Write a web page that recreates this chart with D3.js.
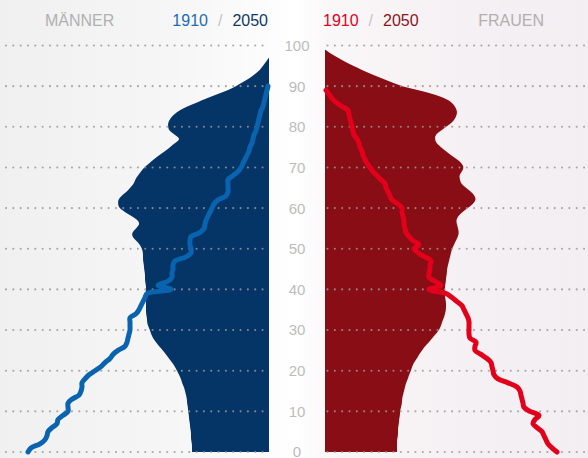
<!DOCTYPE html>
<html>
<head>
<meta charset="utf-8">
<script src="https://cdn.jsdelivr.net/npm/d3@7"></script>
<style>
  html, body { margin: 0; padding: 0; background: #fff; }
  svg { display: block; }
  text { font-family: "Liberation Sans", Arial, sans-serif; }
</style>
</head>
<body>
<div id="chart"></div>
<script>
// population per single year of age (index = age), thousands
const male2050 = [308,308,308,312,312,312,316,316,320,320,324,324,328,328,332,336,340,348,352,360,
  368,376,388,400,412,424,440,452,464,472,476,484,488,488,492,492,492,492,492,492,
  492,492,496,496,496,500,500,504,504,504,508,516,532,548,548,532,516,524,548,576,
  600,604,604,592,568,556,540,536,524,512,500,480,460,440,416,396,376,352,376,400,
  404,404,396,380,360,328,288,248,208,164,132,104,76,56,36,24,12,0];

const female2050 = [288,288,288,288,292,292,292,296,296,300,300,304,308,308,312,316,320,324,332,336,
  344,348,356,368,376,388,400,416,428,444,456,464,468,476,480,484,484,484,480,480,
  480,480,484,484,488,488,492,496,500,504,508,516,524,532,536,532,528,524,532,548,
  572,592,604,600,584,564,544,540,536,548,556,548,528,504,484,464,444,440,440,464,
  484,508,520,528,528,520,508,480,436,376,304,264,224,184,148,112,80,52,24,0];

const male1910 = [964,952,916,896,888,884,868,848,844,824,804,804,804,788,760,752,748,748,736,720,
  696,672,656,636,624,604,576,568,564,560,556,556,556,556,532,520,512,504,496,488,
  392,444,404,388,388,384,384,376,332,312,312,316,316,312,276,260,256,252,244,236,
  228,220,204,172,164,164,164,164,144,124,112,104,96,88,80,76,68,64,60,52,
  48,44,40,36,32,24,20,16,12,8,4];

const female1910 = [928,908,892,884,876,868,848,832,840,856,820,796,792,788,784,780,768,732,692,676,
  672,668,664,648,624,600,600,604,580,576,576,576,576,572,564,556,548,528,508,484,
  416,464,440,416,416,420,420,424,400,372,356,376,352,336,324,320,316,316,312,308,
  308,292,268,260,252,244,240,224,208,192,180,168,160,152,148,140,136,128,116,112,
  108,104,100,96,92,68,44,28,16,4];

const ageTicks = [0, 10, 20, 30, 40, 50, 60, 70, 80, 90, 100];

const W = 588, H = 458;
const svg = d3.select('#chart').append('svg')
  .attr('width', W).attr('height', H);

// background
const defs = svg.append('defs');
const bg = defs.append('linearGradient').attr('id', 'bg')
  .attr('x1', 0).attr('x2', 1).attr('y1', 0).attr('y2', 0);
[[0, '#f0f0f1'], [0.3, '#f6f6f7'], [0.47, '#fdfdfd'], [0.5, '#ffffff'],
 [0.56, '#faf7f8'], [0.8, '#f5f0f3'], [1, '#f3eef1']].forEach(s => {
  bg.append('stop').attr('offset', s[0]).attr('stop-color', s[1]);
});
svg.append('rect').attr('width', W).attr('height', H).attr('fill', 'url(#bg)');

// scales
const y = d3.scaleLinear().domain([0, 100]).range([452, 45.5]);
const xM = d3.scaleLinear().domain([0, 1000]).range([269, 19]);
const xF = d3.scaleLinear().domain([0, 1000]).range([325, 575]);

const toPts = arr => arr.map((v, i) => ({age: i, v: v}));

// 2050 filled shapes
const areaM = d3.area()
  .y(d => y(d.age))
  .x0(xM(0))
  .x1(d => xM(d.v))
  .curve(d3.curveBasis);
const areaF = d3.area()
  .y(d => y(d.age))
  .x0(xF(0))
  .x1(d => xF(d.v))
  .curve(d3.curveBasis);

svg.append('path').datum(toPts(male2050))
  .attr('d', areaM).attr('fill', '#053467');
svg.append('path').datum(toPts(female2050))
  .attr('d', areaF).attr('fill', '#890d15');

// dotted grid lines
const grid = svg.append('g').attr('class', 'grid');
ageTicks.forEach(a => {
  [[6, 267], [327.5, 590]].forEach(seg => {
    grid.append('line')
      .attr('x1', seg[0]).attr('x2', seg[1])
      .attr('y1', y(a)).attr('y2', y(a))
      .attr('stroke', '#999')
      .attr('stroke-opacity', 0.85)
      .attr('stroke-width', 2.1)
      .attr('stroke-linecap', 'round')
      .attr('stroke-dasharray', '0,7.33');
  });
});

// 1910 lines
const lineM = d3.line()
  .x(d => xM(d.v)).y(d => y(d.age))
  .curve(d3.curveCatmullRom);
const lineF = d3.line()
  .x(d => xF(d.v)).y(d => y(d.age))
  .curve(d3.curveCatmullRom);

svg.append('path').datum(toPts(male1910))
  .attr('d', lineM).attr('fill', 'none')
  .attr('stroke', '#0a63ae').attr('stroke-width', 5)
  .attr('stroke-linejoin', 'round').attr('stroke-linecap', 'round');
svg.append('path').datum(toPts(female1910))
  .attr('d', lineF).attr('fill', 'none')
  .attr('stroke', '#e2001b').attr('stroke-width', 5)
  .attr('stroke-linejoin', 'round').attr('stroke-linecap', 'round');

// age labels
svg.append('g').selectAll('text')
  .data(ageTicks)
  .join('text')
  .attr('x', 297)
  .attr('y', d => y(d))
  .attr('dy', '0.36em')
  .attr('text-anchor', 'middle')
  .attr('font-size', 15)
  .attr('fill', '#bcbcbc')
  .text(d => d);

// header
const head = svg.append('g').attr('font-size', 16);
head.append('text').attr('x', 45).attr('y', 26).attr('fill', '#b0b0b0').text('MÄNNER');
const lh = head.append('text').attr('x', 268).attr('y', 26).attr('text-anchor', 'end');
lh.append('tspan').attr('fill', '#1a6db3').text('1910');
lh.append('tspan').attr('fill', '#c4c4c4').attr('dx', 10).text('/');
lh.append('tspan').attr('fill', '#0e3866').attr('dx', 10).text('2050');

const rh = head.append('text').attr('x', 323).attr('y', 26);
rh.append('tspan').attr('fill', '#e2001a').text('1910');
rh.append('tspan').attr('fill', '#c4c4c4').attr('dx', 10).text('/');
rh.append('tspan').attr('fill', '#8b1419').attr('dx', 10).text('2050');
head.append('text').attr('x', 544).attr('y', 26).attr('text-anchor', 'end')
  .attr('fill', '#b0b0b0').text('FRAUEN');
</script>
</body>
</html>
